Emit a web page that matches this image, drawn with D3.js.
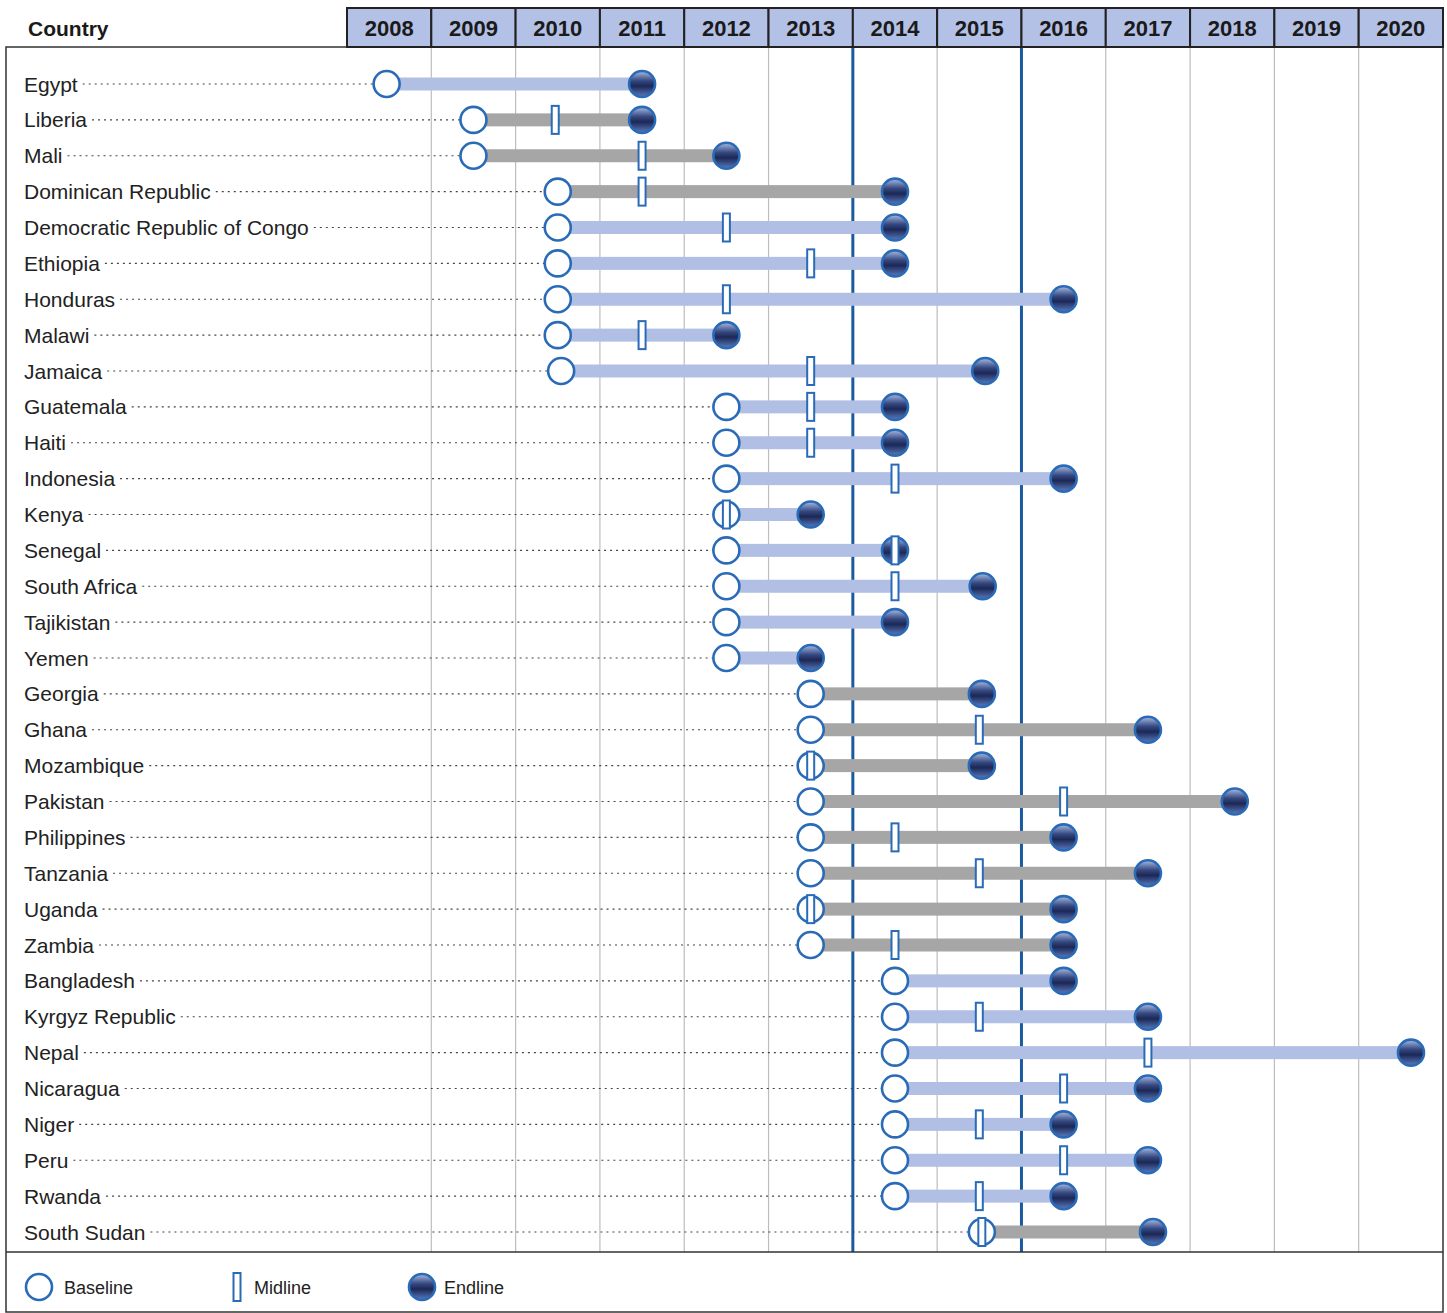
<!DOCTYPE html>
<html>
<head>
<meta charset="utf-8">
<script src="https://cdn.jsdelivr.net/npm/d3@7"></script>
<style>
  html, body { margin: 0; padding: 0; background: #fff; }
  svg { display: block; }
</style>
</head>
<body>
<svg id="chart"></svg>
<script>
// chart data
const years = [2008, 2009, 2010, 2011, 2012, 2013, 2014, 2015, 2016, 2017, 2018, 2019, 2020];
const countries = ["Egypt", "Liberia", "Mali", "Dominican Republic", "Democratic Republic of Congo",
  "Ethiopia", "Honduras", "Malawi", "Jamaica", "Guatemala", "Haiti", "Indonesia", "Kenya", "Senegal",
  "South Africa", "Tajikistan", "Yemen", "Georgia", "Ghana", "Mozambique", "Pakistan", "Philippines",
  "Tanzania", "Uganda", "Zambia", "Bangladesh", "Kyrgyz Republic", "Nepal", "Nicaragua", "Niger",
  "Peru", "Rwanda", "South Sudan"];
const baseline = [2007.97, 2009, 2009, 2010, 2010, 2010, 2010, 2010, 2010.04, 2012, 2012, 2012, 2012, 2012,
  2012, 2012, 2012, 2013, 2013, 2013, 2013, 2013, 2013, 2013, 2013, 2014, 2014, 2014, 2014, 2014,
  2014, 2014, 2015.03];
const midline = [null, 2009.97, 2011, 2011, 2012, 2013, 2012, 2011, 2013, 2013, 2013, 2014, 2012, 2014,
  2014, null, null, null, 2015, 2013, 2016, 2014, 2015, 2013, 2014, null, 2015, 2017, 2016, 2015,
  2016, 2015, 2015.03];
const endline = [2011, 2011, 2012, 2014, 2014, 2014, 2016, 2012, 2015.07, 2014, 2014, 2016, 2013, 2014,
  2015.04, 2014, 2013, 2015.03, 2017, 2015.03, 2018.03, 2016, 2017, 2016, 2016, 2016, 2017, 2020.12,
  2017, 2016, 2017, 2016, 2017.06];
// "g" = grey bar, "b" = blue bar
const barGroup = ["b", "g", "g", "g", "b", "b", "b", "b", "b", "b", "b", "b", "b", "b", "b", "b", "b",
  "g", "g", "g", "g", "g", "g", "g", "g", "b", "b", "b", "b", "b", "b", "b", "g"];
const markYears = [2013.5, 2015.5];
const legendItems = ["Baseline", "Midline", "Endline"];

const width = 1447, height = 1313;
const left = 6, right = 1443, headTop = 8, headBottom = 47, plotLeft = 347, sepY = 1252;

const svg = d3.select("#chart").attr("width", width).attr("height", height);

const x = d3.scaleLinear().domain([2007.5, 2020.5]).range([plotLeft, right]);
const y = d3.scalePoint().domain(countries).range([84, 1232]);
const barColor = d3.scaleOrdinal().domain(["b", "g"]).range(["#b1bfe4", "#a6a6a6"]);

const rows = countries.map((c, i) => ({
  name: c, base: baseline[i], mid: midline[i], end: endline[i], group: barGroup[i]
}));

// gradient for the endline ball
const defs = svg.append("defs");
const grad = defs.append("linearGradient").attr("id", "ball")
  .attr("x1", 0).attr("y1", 0).attr("x2", 0).attr("y2", 1);
grad.append("stop").attr("offset", "0%").attr("stop-color", "#aabde6");
grad.append("stop").attr("offset", "38%").attr("stop-color", "#34477f");
grad.append("stop").attr("offset", "58%").attr("stop-color", "#1c2856");
grad.append("stop").attr("offset", "100%").attr("stop-color", "#5b7cc0");

const blue = "#2a6bb7";
const R = 13;

// grid lines
svg.append("g").selectAll("line")
  .data(d3.range(2008.5, 2020.5, 1))
  .join("line")
  .attr("x1", d => x(d)).attr("x2", d => x(d))
  .attr("y1", headBottom).attr("y2", sepY)
  .attr("stroke", "#bdbdbd").attr("stroke-width", 1.2);

svg.append("g").selectAll("line")
  .data(markYears)
  .join("line")
  .attr("x1", d => x(d)).attr("x2", d => x(d))
  .attr("y1", headBottom).attr("y2", sepY)
  .attr("stroke", "#1a5a9e").attr("stroke-width", 3);

// frame
svg.append("rect")
  .attr("x", left).attr("y", headBottom)
  .attr("width", right - left).attr("height", height - headBottom - 1)
  .attr("fill", "none").attr("stroke", "#333").attr("stroke-width", 1.5);
svg.append("line")
  .attr("x1", left).attr("x2", right).attr("y1", sepY).attr("y2", sepY)
  .attr("stroke", "#333").attr("stroke-width", 1.5);

// header
const head = svg.append("g");
head.selectAll("rect")
  .data(years)
  .join("rect")
  .attr("x", d => x(d - 0.5)).attr("y", headTop)
  .attr("width", d => x(d + 0.5) - x(d - 0.5)).attr("height", headBottom - headTop)
  .attr("fill", "#b4c1e6").attr("stroke", "#222").attr("stroke-width", 2);
head.selectAll("text")
  .data(years)
  .join("text")
  .attr("x", d => x(d)).attr("y", (headTop + headBottom) / 2 + 1)
  .attr("text-anchor", "middle").attr("dominant-baseline", "central")
  .attr("font-family", "'Liberation Sans Narrow', 'Arial Narrow', 'Liberation Sans', Arial, sans-serif")
  .attr("font-weight", "bold").attr("font-size", 22).attr("fill", "#1a1a1a")
  .text(d => d);
head.append("text")
  .attr("x", 28).attr("y", 28)
  .attr("dominant-baseline", "central")
  .attr("font-family", "'Liberation Sans', Arial, sans-serif")
  .attr("font-weight", "bold").attr("font-size", 21).attr("fill", "#1a1a1a")
  .text("Country");

// rows
const row = svg.append("g").selectAll("g")
  .data(rows)
  .join("g")
  .attr("transform", d => `translate(0,${y(d.name)})`);

const labels = row.append("text")
  .attr("x", 24).attr("y", 0)
  .attr("dominant-baseline", "central")
  .attr("font-family", "'Liberation Sans', Arial, sans-serif")
  .attr("font-size", 21).attr("fill", "#222")
  .text(d => d.name);

labels.each(function(d) { d.labelEnd = 24 + this.getComputedTextLength(); });

row.append("line")
  .attr("x1", d => d.labelEnd + 5).attr("x2", d => x(d.base) - R)
  .attr("y1", 0).attr("y2", 0)
  .attr("stroke", "#444").attr("stroke-width", 1.2).attr("stroke-dasharray", "2,4");

row.append("rect")
  .attr("x", d => x(d.base)).attr("y", -6.5)
  .attr("width", d => x(d.end) - x(d.base)).attr("height", 13)
  .attr("fill", d => barColor(d.group));

row.append("circle")
  .attr("cx", d => x(d.base)).attr("cy", 0).attr("r", R)
  .attr("fill", "#fff").attr("stroke", blue).attr("stroke-width", 2.6);

row.append("circle")
  .attr("cx", d => x(d.end)).attr("cy", 0).attr("r", R)
  .attr("fill", "url(#ball)").attr("stroke", blue).attr("stroke-width", 2.6);

row.filter(d => d.mid != null).append("rect")
  .attr("x", d => x(d.mid) - 3.5).attr("y", -14)
  .attr("width", 7).attr("height", 28)
  .attr("fill", "#fff").attr("stroke", blue).attr("stroke-width", 2);

// legend
const legendX = [39, 237, 422];
const legend = svg.append("g").selectAll("g")
  .data(legendItems)
  .join("g")
  .attr("transform", (d, i) => `translate(${legendX[i]},1287)`);

legend.filter(d => d === "Baseline").append("circle")
  .attr("r", R).attr("fill", "#fff").attr("stroke", blue).attr("stroke-width", 2.6);
legend.filter(d => d === "Midline").append("rect")
  .attr("x", -3.5).attr("y", -14).attr("width", 7).attr("height", 28)
  .attr("fill", "#fff").attr("stroke", blue).attr("stroke-width", 2);
legend.filter(d => d === "Endline").append("circle")
  .attr("r", R).attr("fill", "url(#ball)").attr("stroke", blue).attr("stroke-width", 2.6);

legend.append("text")
  .attr("x", (d, i) => [25, 17, 22][i]).attr("y", 1)
  .attr("dominant-baseline", "central")
  .attr("font-family", "'Liberation Sans', Arial, sans-serif")
  .attr("font-size", 18).attr("fill", "#222")
  .text(d => d);
</script>
</body>
</html>
